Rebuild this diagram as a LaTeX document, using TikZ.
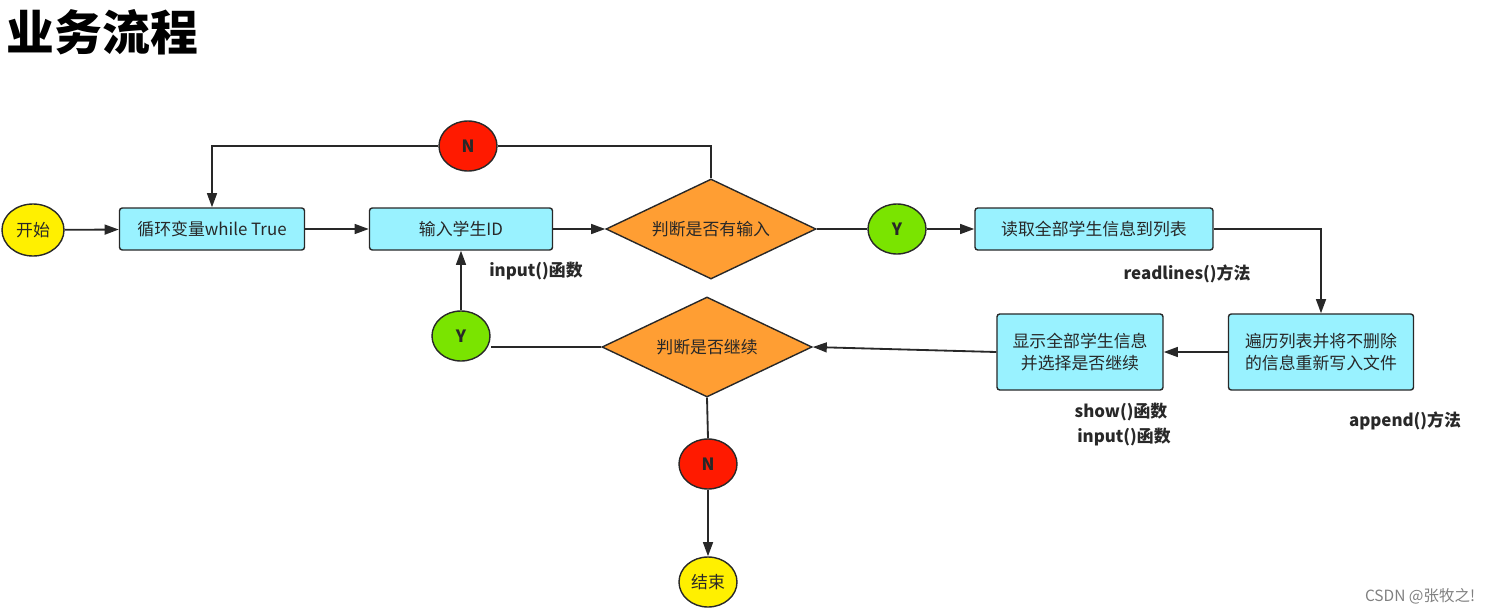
\documentclass[tikz,border=0pt]{standalone}
\usepackage{fontspec}
\setmainfont{Noto Sans CJK SC}
\usetikzlibrary{shapes.geometric, arrows.meta, positioning}
\definecolor{mycyan}{RGB}{153,242,255}
\definecolor{myorange}{RGB}{255,158,51}
\definecolor{mygreen}{RGB}{122,228,0}
\definecolor{myred}{RGB}{255,26,0}
\definecolor{myyellow}{RGB}{255,240,0}
\definecolor{mydark}{RGB}{40,40,40}
\tikzset{
  procbox/.style={rectangle, draw=mydark, fill=mycyan, align=center, minimum height=1.05cm, font=\fontsize{12}{15}\selectfont, text=mydark, rounded corners=2pt, line width=1pt},
  decision/.style={diamond, aspect=2.1, draw=mydark, fill=myorange, minimum width=5.25cm, minimum height=2.5cm, inner sep=0pt, font=\fontsize{12}{15}\selectfont, text=mydark, line width=1pt},
  yesdot/.style={ellipse, draw=mydark, fill=mygreen, minimum width=1.45cm, minimum height=1.25cm, inner sep=0pt, font=\fontsize{12}{15}\selectfont\bfseries, text=mydark, line width=1pt},
  nodot/.style={yesdot, fill=myred},
  terminal/.style={yesdot, fill=myyellow, font=\fontsize{12}{15}\selectfont},
  note/.style={font=\fontsize{12}{15}\selectfont\bfseries, text=mydark},
  arrow/.style={-{Triangle[length=10pt,width=7pt]}, line width=1.3pt, color=mydark},
  line/.style={line width=1.3pt, color=mydark}
}
\begin{document}
\begin{tikzpicture}[x=0.025cm, y=-0.025cm]
  \useasboundingbox (0,0) rectangle (1488,614);

  % Title
  \node[anchor=west, font=\fontsize{34}{40}\selectfont\bfseries] (title) at (2,32) {业务流程};

  % Top row
  \node[terminal, minimum width=1.55cm, minimum height=1.3cm] (start) at (33,230) {开始};
  \node[procbox, minimum width=4.625cm] (loop) at (212,229) {循环变量while True};
  \node[procbox, minimum width=4.575cm] (inputid) at (461,229) {输入学生ID};
  \node[decision] (hasinput) at (711,229) {判断是否有输入};
  \node[nodot] (ntop) at (468,146) {N};
  \node[yesdot] (ytop) at (897,229) {Y};
  \node[procbox, minimum width=5.95cm] (read) at (1094,229) {读取全部学生信息到列表};

  % Bottom row
  \node[procbox, minimum width=4.625cm, minimum height=1.9cm, font=\fontsize{12}{16}\selectfont] (rewrite) at (1321,352) {遍历列表并将不删除\\的信息重新写入文件};
  \node[procbox, minimum width=4.15cm, minimum height=1.9cm, font=\fontsize{12}{16}\selectfont] (show) at (1080,352) {显示全部学生信息\\并选择是否继续};
  \node[decision] (goon) at (707,347) {判断是否继续};
  \node[yesdot] (ybot) at (461,336) {Y};
  \node[nodot] (nbot) at (708,464) {N};
  \node[terminal] (stop) at (708,582) {结束};

  % Notes
  \node[note] (n1) at (536,271) {input()函数};
  \node[note] (n2) at (1187,274) {readlines()方法};
  \node[note] (n3) at (1405,421) {append()方法};
  \node[note] (n4) at (1121,412) {show()函数};
  \node[note] (n5) at (1124,437) {input()函数};
  \node[text=gray, font=\fontsize{11}{13}\selectfont] (mark) at (1420,596) {CSDN @张牧之!};

  % Connectors
  \draw[arrow] (start) -- (loop);
  \draw[arrow] (loop) -- (inputid);
  \draw[arrow] (inputid) -- (hasinput);
  \draw[line] (hasinput.north) |- (ntop.east);
  \draw[arrow] (ntop.west) -| (loop.north);
  \draw[line] (hasinput.east) -- (ytop.west);
  \draw[arrow] (ytop) -- (read);
  \draw[arrow] (read.east) -| (rewrite.north);
  \draw[arrow] (rewrite) -- (show);
  \draw[arrow] (show.west) -- (goon.east);
  \draw[line] (goon.west) -- (goon.west -| ybot.east);
  \draw[arrow] (ybot.north) -- (inputid.south -| ybot.north);
  \draw[line] (goon.south) -- (nbot.north);
  \draw[arrow] (nbot) -- (stop);
\end{tikzpicture}
\end{document}
